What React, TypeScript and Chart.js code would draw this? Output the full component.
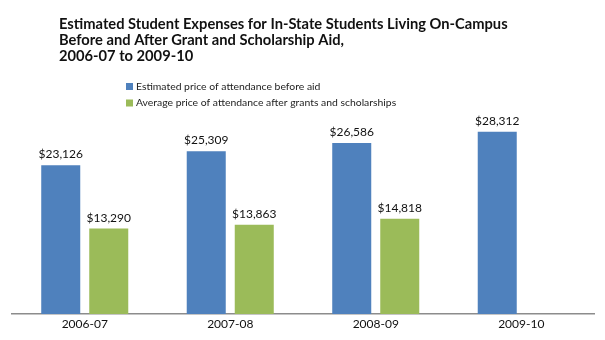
import React, { useEffect, useRef } from "react";
import { Chart, registerables } from "chart.js";

Chart.register(...registerables);

const titleLines = [
  "Estimated Student Expenses for In-State Students Living On-Campus",
  "Before and After Grant and Scholarship Aid,",
  "2006-07 to 2009-10",
];
const categories = ["2006-07", "2007-08", "2008-09", "2009-10"];
const beforeAidLabel = "Estimated price of attendance before aid";
const afterAidLabel = "Average price of attendance after grants and scholarships";
const beforeAid: (number | null)[] = [23126, 25309, 26586, 28312];
const afterAid: (number | null)[] = [13290, 13863, 14818, null];

const BLUE = "#4F81BD";
const GREEN = "#9BBB59";

const fmt = (v: number) => "$" + v.toLocaleString("en-US");

const headerPlugin = {
  id: "header",
  afterDraw(chart: any) {
    const ctx = chart.ctx as CanvasRenderingContext2D;
    ctx.save();
    ctx.fillStyle = "#111";
    ctx.textAlign = "left";
    ctx.textBaseline = "alphabetic";
    ctx.font = "bold 14.7px Lato";
    titleLines.forEach((line, i) => {
      ctx.fillText(line, 59, 29 + i * 16);
    });
    ctx.font = "10.4px Lato";
    chart.data.datasets.forEach((ds: any, i: number) => {
      const cy = 86.5 + i * 16.5;
      ctx.fillStyle = ds.backgroundColor;
      ctx.fillRect(126, cy - 3.5, 7, 7);
      ctx.fillStyle = "#222";
      ctx.textBaseline = "middle";
      ctx.fillText(ds.label, 136, cy);
    });
    ctx.restore();
  },
};

const valueLabelPlugin = {
  id: "valueLabels",
  afterDatasetsDraw(chart: any) {
    const ctx = chart.ctx as CanvasRenderingContext2D;
    ctx.save();
    ctx.fillStyle = "#111";
    ctx.font = "12px Lato";
    ctx.textAlign = "center";
    ctx.textBaseline = "alphabetic";
    chart.data.datasets.forEach((ds: any, di: number) => {
      const meta = chart.getDatasetMeta(di);
      meta.data.forEach((bar: any, i: number) => {
        const v = ds.data[i];
        if (v == null) return;
        ctx.fillText(fmt(v), bar.x, bar.y - 7);
      });
    });
    ctx.restore();
  },
};

export default function App() {
  const ref = useRef<HTMLCanvasElement | null>(null);
  useEffect(() => {
    if (!ref.current) return;
    const chart = new Chart(ref.current, {
      type: "bar",
      data: {
        labels: categories,
        datasets: [
          {
            label: beforeAidLabel,
            data: beforeAid,
            backgroundColor: BLUE,
            categoryPercentage: 0.66,
            barPercentage: 0.8125,
          },
          {
            label: afterAidLabel,
            data: afterAid,
            backgroundColor: GREEN,
            categoryPercentage: 0.66,
            barPercentage: 0.8125,
          },
        ],
      },
      options: {
        responsive: false,
        animation: false,
        layout: { padding: { top: 121, left: 12, right: 11, bottom: 5.6 } },
        plugins: {
          legend: { display: false },
          title: { display: false },
          tooltip: { enabled: false },
        },
        scales: {
          x: {
            grid: { display: false, drawTicks: false, tickLength: 0 },
            border: { display: true, color: "#8c8c8c", width: 1.5 },
            ticks: { color: "#111", font: { family: "Lato", size: 12 }, padding: 3 },
          },
          y: {
            display: false,
            min: 0,
            max: 30000,
          },
        },
      },
      plugins: [headerPlugin, valueLabelPlugin],
    });
    return () => chart.destroy();
  }, []);
  return (
    <div style={{ position: "fixed", left: 0, top: 0, width: 605, height: 340, background: "#fff" }}>
      <canvas ref={ref} width={605} height={340} />
    </div>
  );
}
